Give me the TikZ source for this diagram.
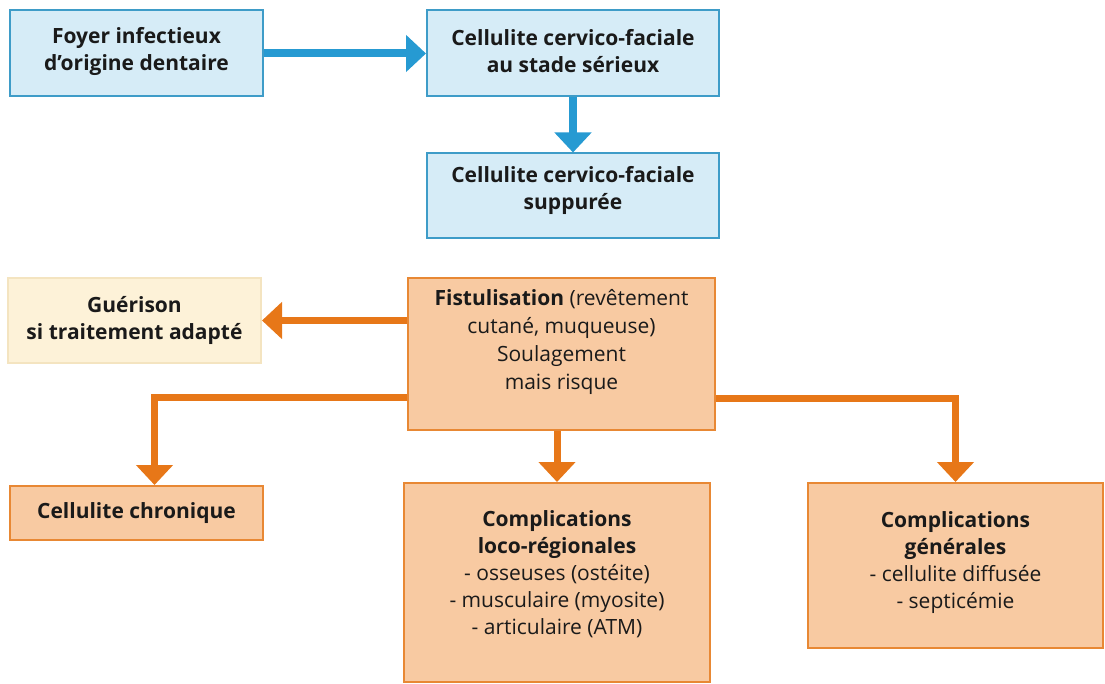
\documentclass[tikz,border=0pt]{standalone}
\usepackage{fontspec}
\setmainfont{Open Sans}
\usepackage{tikz}
\usetikzlibrary{arrows.meta,positioning}

\definecolor{bleufond}{RGB}{214,236,247}
\definecolor{bleutrait}{RGB}{62,156,200}
\definecolor{bleufleche}{RGB}{38,154,210}
\definecolor{orfond}{RGB}{248,202,162}
\definecolor{ortrait}{RGB}{232,136,52}
\definecolor{orfleche}{RGB}{231,119,24}
\definecolor{cremefond}{RGB}{253,242,216}
\definecolor{cremetrait}{RGB}{244,228,192}
\definecolor{encre}{RGB}{26,26,26}

\begin{document}
\begin{tikzpicture}[x=1pt, y=-1pt, node distance=10pt,
  font=\fontsize{21}{27}\selectfont, text=encre]
	\tikzstyle{bluebox}
	  =[draw=bleutrait, fill=bleufond, line width=2pt, rectangle,
	  align=center, minimum width=292pt, minimum height=86pt]
	\tikzstyle{orbox}
	  =[draw=ortrait, fill=orfond, line width=2pt, rectangle,
	  align=center]
	\tikzstyle{cremebox}
	  =[draw=cremetrait, fill=cremefond, line width=2pt, rectangle,
	  align=center, minimum width=253pt, minimum height=85pt]
	\tikzstyle{bluearrow}
	  =[draw=bleufleche, line width=8pt,
	  -{Triangle[width=36pt, length=20pt]}]
	\tikzstyle{orarrow}
	  =[draw=orfleche, line width=7pt,
	  -{Triangle[width=36pt, length=20pt]}]

	\useasboundingbox (0,0) rectangle (1105,684);

	% haut : bleu
	\node[bluebox, minimum width=253pt] (foyer)
	  at (136.5,53.5) {\textbf{Foyer infectieux}\\\textbf{d’origine dentaire}\\[-17pt]};
	\node[bluebox] (serieux)
	  [right=162pt of foyer] {\textbf{Cellulite cervico-faciale}\\\textbf{au stade sérieux}\\[-21pt]};
	\node[bluebox, minimum height=85pt] (suppuree)
	  [below=55pt of serieux] {\textbf{Cellulite cervico-faciale}\\\textbf{suppurée}\\[-10pt]};

	% bas : orange
	\node[orbox, minimum width=307pt, minimum height=152pt] (fistule)
	  at (561.5,354) {};
	\node[inner sep=0, align=center, font=\fontsize{21}{28}\selectfont] (fistuletxt)
	  [below=12pt of fistule.north] {\textbf{Fistulisation} (revêtement\\cutané, muqueuse)\\Soulagement\\mais risque};
	\node[cremebox] (guerison)
	  [below left=0pt and 145pt of fistule.north west] {\textbf{Guérison}\\\textbf{si traitement adapté}};
	\node[orbox, minimum width=253pt, minimum height=54pt] (chronique)
	  at (136.5,513) {\textbf{Cellulite chronique}};
	\node[orbox, minimum width=306pt, minimum height=199pt] (loco)
	  at (557,582.5) {\textbf{Complications}\\\textbf{loco-régionales}\\- osseuses (ostéite)\\- musculaire (myosite)\\- articulaire (ATM)\\[-7pt]};
	\node[orbox, minimum width=295pt, minimum height=165pt] (generales)
	  at (955.5,565.5) {\textbf{Complications}\\\textbf{générales}\\- cellulite diffusée\\- septicémie\\[-16pt]};

	\draw[bluearrow] (foyer)--(serieux);
	\draw[bluearrow] (serieux.south -| suppuree.north)--(suppuree.north);
	\draw[orarrow] (fistule.west |- guerison.east)--(guerison.east);
	\draw[orarrow] ([yshift=-43pt]fistule.west) -| ([xshift=18pt]chronique.north);
	\draw[orarrow] (fistule.south -| loco.north)--(loco.north);
	\draw[orarrow] ([yshift=-44pt]fistule.east) -| (generales.north);
\end{tikzpicture}
\end{document}
